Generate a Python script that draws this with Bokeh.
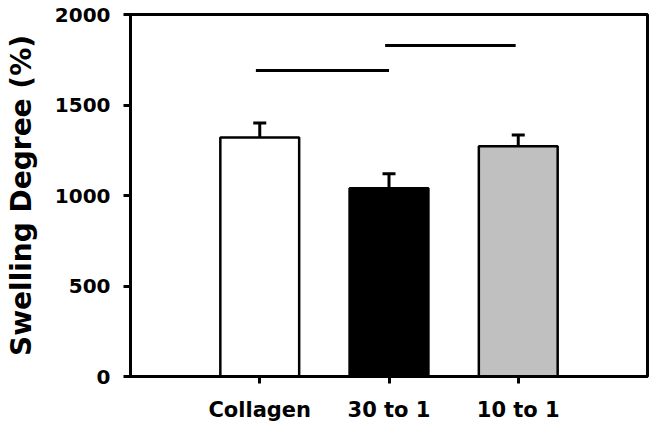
from bokeh.plotting import figure
from bokeh.models import ColumnDataSource, FixedTicker, Whisker, TeeHead, Range1d
from bokeh.embed import file_html
from bokeh.resources import INLINE

categories = ["Collagen", "30 to 1", "10 to 1"]
values = [1320, 1040, 1272]
errors = [80, 80, 62]
colors = ["#FFFFFF", "#000000", "#C0C0C0"]
y_ticks = [0, 500, 1000, 1500, 2000]
# significance brackets: (x start, x end, y level)
sig_x0 = [0.97, 1.97]
sig_x1 = [2.0, 2.98]
sig_y = [1690, 1829]

xs = list(range(1, len(categories) + 1))
src = ColumnDataSource(dict(
    x=xs, top=values, upper=[v + e for v, e in zip(values, errors)], color=colors,
))

p = figure(width=652, height=424, output_backend="svg", toolbar_location=None,
           x_range=Range1d(0, 4), y_range=Range1d(0, 2000),
           min_border_left=130, min_border_top=14, min_border_right=5, min_border_bottom=48)

p.vbar(x="x", top="top", width=0.61, bottom=0, source=src, fill_color="color",
       line_color="black", line_width=2.5)

wh = Whisker(source=src, base="x", lower="top", upper="upper",
             upper_head=TeeHead(size=13, line_width=3, line_color="black"),
             lower_head=None, line_width=3, line_color="black")
p.add_layout(wh)

p.segment(x0=sig_x0, x1=sig_x1, y0=sig_y, y1=sig_y, line_width=3, line_color="black")

p.xgrid.visible = False
p.ygrid.visible = False
p.outline_line_color = "black"
p.outline_line_width = 3
p.outline_line_alpha = 1
p.background_fill_color = "white"
p.border_fill_color = "white"

p.xaxis.ticker = FixedTicker(ticks=xs)
p.xaxis.major_label_overrides = {x: c for x, c in zip(xs, categories)}
p.yaxis.ticker = FixedTicker(ticks=y_ticks)

for ax in (p.xaxis[0], p.yaxis[0]):
    ax.axis_line_width = 3
    ax.axis_line_color = "black"
    ax.major_tick_line_width = 3
    ax.major_tick_line_color = "black"
    ax.major_tick_out = 7
    ax.major_tick_in = 0
    ax.minor_tick_line_color = None
    ax.major_label_text_font = "DejaVu Sans"
    ax.major_label_text_font_style = "bold"
    ax.major_label_text_font_size = "20px"
    ax.major_label_text_color = "black"

p.xaxis.major_label_text_font_size = "21px"
p.xaxis.major_label_standoff = 14
p.yaxis.major_label_standoff = 13
p.yaxis.axis_label = "Swelling Degree (%)"
p.yaxis.axis_label_text_font = "DejaVu Sans"
p.yaxis.axis_label_text_font_style = "bold"
p.yaxis.axis_label_text_font_size = "28px"
p.yaxis.axis_label_text_color = "black"
p.yaxis.axis_label_standoff = 14

open("out.html", "w").write(file_html(p, INLINE))
